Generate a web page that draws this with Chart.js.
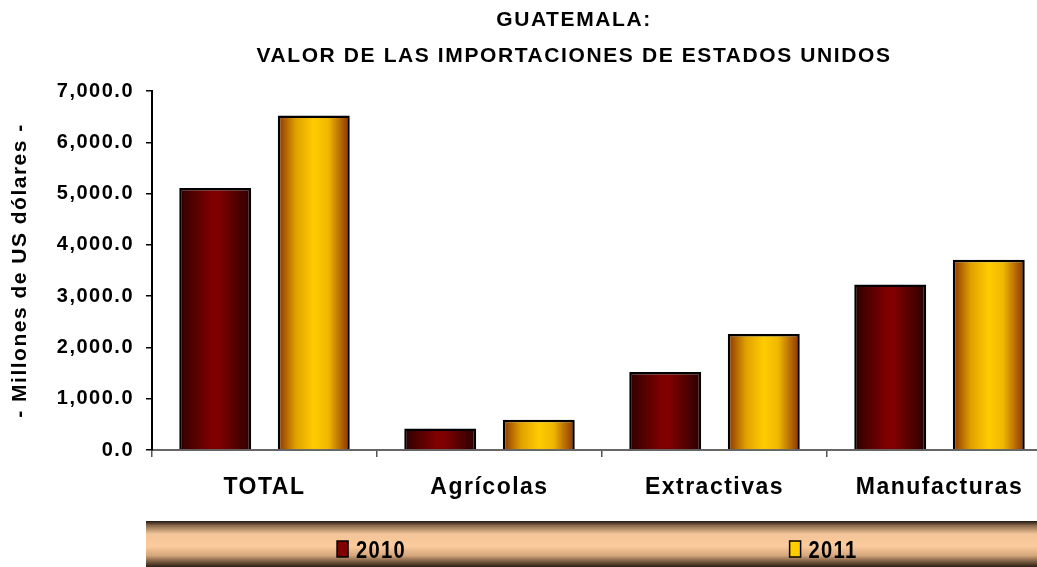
<!DOCTYPE html>
<html><head><meta charset="utf-8">
<script src="https://cdn.jsdelivr.net/npm/chart.js@4.4.1/dist/chart.umd.min.js"></script>
<style>html,body{margin:0;padding:0;background:#fff;overflow:hidden;}#wrap{width:1060px;height:567px;}</style>
</head><body><div id="wrap"><canvas id="c" width="1060" height="567"></canvas></div>
<script>
// ---- data ----
const titleLines = ['GUATEMALA:', 'VALOR DE LAS IMPORTACIONES DE ESTADOS UNIDOS'];
const yAxisTitle = '- Millones de US dólares -';
const categories = ['TOTAL', 'Agrícolas', 'Extractivas', 'Manufacturas'];
const seriesNames = ['2010', '2011'];
const values2010 = [5110, 420, 1520, 3225];
const values2011 = [6520, 590, 2260, 3710];
const yTicks = [0, 1000, 2000, 3000, 4000, 5000, 6000, 7000];

// ---- styles ----
const FONT = "'Liberation Sans', Arial, sans-serif";
const gradStops = [
  [[0, '#2e0000'], [0.45, '#800000'], [0.55, '#800000'], [1, '#2a0000']],
  [[0, '#8a3300'], [0.25, '#e0a000'], [0.5, '#ffcc00'], [0.7, '#f0b800'], [1, '#8a3000']]
];
const legendColors = ['#800000', '#ffcc00'];

const spacingPlugin = {
  id: 'spacing',
  beforeLayout(chart) { chart.ctx.letterSpacing = '1.5px'; },
  beforeDraw(chart) { chart.ctx.letterSpacing = '1.5px'; }
};

const barGradients = {
  id: 'barGradients',
  beforeDatasetsDraw(chart) {
    const ctx = chart.ctx;
    chart.data.datasets.forEach((ds, i) => {
      chart.getDatasetMeta(i).data.forEach(el => {
        const g = ctx.createLinearGradient(el.x - el.width / 2, 0, el.x + el.width / 2, 0);
        gradStops[i].forEach(([o, c]) => g.addColorStop(o, c));
        el.options = Object.assign({}, el.options, { backgroundColor: g });
      });
    });
  }
};

const titleAndLegend = {
  id: 'titleAndLegend',
  afterDraw(chart) {
    const ctx = chart.ctx;
    ctx.save();
    // title
    ctx.letterSpacing = '1.6px';
    ctx.fillStyle = '#000';
    ctx.textAlign = 'center';
    ctx.textBaseline = 'alphabetic';
    ctx.font = 'bold 21px ' + FONT;
    ctx.fillText(titleLines[0], 574, 26);
    ctx.fillText(titleLines[1], 574, 61.5);
    // legend band
    const top = chart.scales.x.bottom;
    const left = 146, right = chart.chartArea.right - 2;
    const bottom = chart.height;
    const g = ctx.createLinearGradient(0, top, 0, bottom);
    g.addColorStop(0, '#22160c');
    g.addColorStop(0.1, '#8a6a4c');
    g.addColorStop(0.28, '#f2c498');
    g.addColorStop(0.55, '#fccb9d');
    g.addColorStop(0.75, '#d4a67c');
    g.addColorStop(0.9, '#6e523a');
    g.addColorStop(1, '#2e2014');
    ctx.fillStyle = g;
    ctx.fillRect(left, top, right - left, bottom - top);
    // legend items
    ctx.letterSpacing = '1.5px';
    ctx.font = 'bold 24px ' + FONT;
    ctx.textAlign = 'left';
    ctx.textBaseline = 'alphabetic';
    const sx = 0.84;
    const n = seriesNames.length, w = right - left, cy = top + 28;
    seriesNames.forEach((name, i) => {
      const tw = ctx.measureText(name).width * sx;
      const itemW = 12 + 8 + tw;
      const cx = left + (2 * i + 1) * w / (2 * n);
      const x0 = cx - itemW / 2;
      ctx.fillStyle = legendColors[i];
      ctx.fillRect(x0, cy - 8, 11, 16);
      ctx.lineWidth = 1.5;
      ctx.strokeStyle = '#000';
      ctx.strokeRect(x0, cy - 8, 11, 16);
      ctx.fillStyle = '#000';
      ctx.save();
      ctx.translate(x0 + 19, cy + 9);
      ctx.scale(sx, 1);
      ctx.fillText(name, 0, 0);
      ctx.restore();
    });
    ctx.restore();
  }
};

new Chart(document.getElementById('c'), {
  type: 'bar',
  data: {
    labels: categories,
    datasets: [
      { label: seriesNames[0], data: values2010, backgroundColor: legendColors[0], borderColor: '#000', borderWidth: 2.5 },
      { label: seriesNames[1], data: values2011, backgroundColor: legendColors[1], borderColor: '#000', borderWidth: 2.5 }
    ]
  },
  options: {
    responsive: false,
    animation: false,
    devicePixelRatio: 1,
    categoryPercentage: 0.876,
    barPercentage: 0.73,
    layout: { padding: { top: 91, bottom: 46, right: 8, left: 0 } },
    plugins: { legend: { display: false }, title: { display: false }, tooltip: { enabled: false } },
    scales: {
      x: {
        grid: { drawOnChartArea: false, drawTicks: true, tickLength: 7, color: '#555', lineWidth: 1.5, offset: true },
        border: { display: true, color: '#666', width: 2 },
        ticks: { color: '#000', padding: 17, font: { family: FONT, size: 23, weight: 'bold' }, maxRotation: 0 },
        afterFit(s) { s.height = 71; }
      },
      y: {
        min: 0, max: 7000,
        afterBuildTicks(s) { s.ticks = yTicks.map(v => ({ value: v })); },
        grid: { drawOnChartArea: false, drawTicks: true, tickLength: 6, color: '#000', lineWidth: 1.5 },
        border: { display: true, color: '#000', width: 2 },
        ticks: {
          color: '#000', padding: 12, font: { family: FONT, size: 20, weight: 'bold' },
          callback: v => Number(v).toLocaleString('en-US', { minimumFractionDigits: 1, maximumFractionDigits: 1 })
        },
        title: { display: true, text: yAxisTitle, color: '#000', padding: { top: 8, bottom: 0 }, font: { family: FONT, size: 21, weight: 'bold' } },
        afterFit(s) { s.width = 152; }
      }
    }
  },
  plugins: [spacingPlugin, barGradients, titleAndLegend]
});
</script></body></html>
